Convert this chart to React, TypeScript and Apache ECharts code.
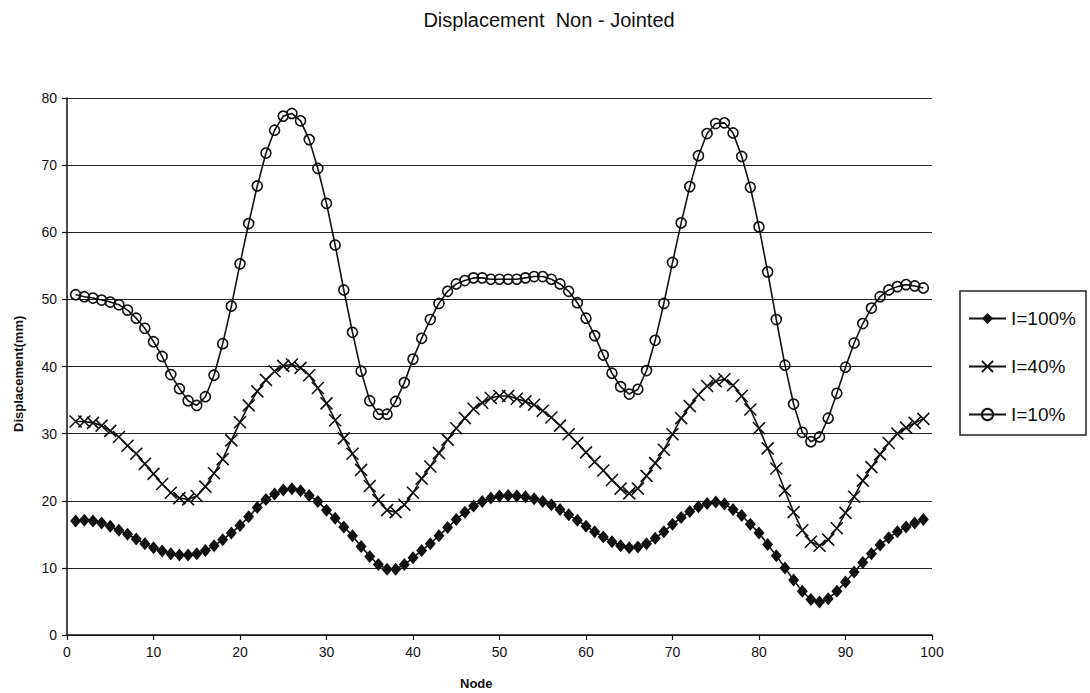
import React, { useEffect, useRef } from "react";
import * as echarts from "echarts";

const nodes = [
  1, 2, 3, 4, 5, 6, 7, 8, 9, 10, 11, 12, 13, 14, 15, 16, 17, 18, 19, 20,
  21, 22, 23, 24, 25, 26, 27, 28, 29, 30, 31, 32, 33, 34, 35, 36, 37, 38, 39, 40,
  41, 42, 43, 44, 45, 46, 47, 48, 49, 50, 51, 52, 53, 54, 55, 56, 57, 58, 59, 60,
  61, 62, 63, 64, 65, 66, 67, 68, 69, 70, 71, 72, 73, 74, 75, 76, 77, 78, 79, 80,
  81, 82, 83, 84, 85, 86, 87, 88, 89, 90, 91, 92, 93, 94, 95, 96, 97, 98, 99,
];

const i100 = [
  17.0, 17.1, 17.0, 16.7, 16.2, 15.6, 15.0, 14.3, 13.6, 13.0, 12.5, 12.1, 11.9, 11.9, 12.1, 12.6, 13.3, 14.2, 15.2, 16.3,
  17.6, 19.0, 20.2, 21.0, 21.6, 21.8, 21.5, 20.8, 19.9, 18.6, 17.4, 16.1, 14.8, 13.2, 11.7, 10.5, 9.8, 9.8, 10.5, 11.5,
  12.6, 13.6, 14.8, 16.0, 17.2, 18.3, 19.2, 19.9, 20.4, 20.7, 20.8, 20.7, 20.6, 20.3, 19.9, 19.4, 18.7, 17.9, 17.1, 16.2,
  15.4, 14.6, 13.9, 13.3, 13.0, 13.1, 13.6, 14.4, 15.4, 16.5, 17.5, 18.4, 19.1, 19.6, 19.8, 19.5, 18.7, 17.8, 16.5, 15.2,
  13.5, 11.8, 10.0, 8.2, 6.5, 5.3, 4.9, 5.4, 6.5, 7.9, 9.4, 10.8, 12.1, 13.4, 14.5, 15.4, 16.1, 16.7, 17.2,
];

const i40 = [
  31.8, 31.8, 31.6, 31.2, 30.4, 29.5, 28.2, 27.0, 25.5, 24.0, 22.5, 21.2, 20.4, 20.2, 20.7, 22.1, 24.1, 26.2, 29.0, 31.7,
  34.2, 36.3, 38.0, 39.3, 40.1, 40.3, 39.8, 38.7, 36.8, 34.5, 32.0, 29.3, 27.0, 24.6, 22.2, 20.1, 18.6, 18.3, 19.4, 21.2,
  23.3, 25.1, 27.1, 29.1, 30.8, 32.3, 33.7, 34.6, 35.3, 35.6, 35.6, 35.2, 34.8, 34.3, 33.4, 32.4, 31.2, 29.9, 28.6, 27.2,
  25.8, 24.5, 23.1, 21.8, 21.1, 21.8, 23.7, 25.6, 27.6, 29.9, 32.3, 34.1, 35.8, 37.1, 37.8, 38.1, 37.2, 35.6, 33.6, 30.8,
  27.8, 24.8, 21.5, 18.3, 15.6, 13.9, 13.3, 14.2, 15.9, 18.2, 20.6, 23.0, 25.0, 26.9, 28.6, 30.0, 30.9, 31.6, 32.2,
];

const i10 = [
  50.7, 50.4, 50.2, 49.9, 49.6, 49.2, 48.4, 47.2, 45.7, 43.7, 41.5, 38.8, 36.7, 34.9, 34.2, 35.5, 38.7, 43.4, 49.0, 55.3,
  61.3, 66.9, 71.8, 75.2, 77.3, 77.7, 76.6, 73.8, 69.5, 64.3, 58.1, 51.4, 45.1, 39.3, 34.9, 32.9, 32.9, 34.8, 37.6, 41.1,
  44.2, 47.0, 49.4, 51.2, 52.3, 52.8, 53.2, 53.2, 53.0, 53.0, 53.0, 53.0, 53.2, 53.4, 53.4, 53.0, 52.3, 51.2, 49.5, 47.2,
  44.6, 41.7, 39.0, 37.0, 35.9, 36.6, 39.4, 43.9, 49.4, 55.5, 61.4, 66.8, 71.4, 74.7, 76.2, 76.3, 74.8, 71.3, 66.7, 60.8,
  54.1, 47.0, 40.2, 34.4, 30.2, 28.8, 29.5, 32.3, 36.0, 39.9, 43.5, 46.4, 48.7, 50.4, 51.4, 51.9, 52.2, 52.0, 51.7,
];

const seriesNames = ["I=100%", "I=40%", "I=10%"];
const titleText = "Displacement  Non - Jointed";
const xName = "Node";
const yName = "Displacement(mm)";

const FONT = "'Liberation Sans', Arial, sans-serif";
const INK = "#111";

function pairs(vals: number[]) {
  return vals.map((v, i) => [nodes[i], v]);
}

export default function App() {
  const ref = useRef<HTMLDivElement>(null);
  useEffect(() => {
    document.body.style.margin = "0";
    if (!ref.current) return;
    const chart = echarts.init(ref.current, null, { renderer: "svg" });
    const lineStyle = { color: INK, width: 1.6 };
    chart.setOption({
      animation: false,
      backgroundColor: "#fff",
      textStyle: { fontFamily: FONT, color: INK },
      title: {
        text: titleText,
        left: 544,
        top: 5,
        textAlign: "center",
        textStyle: { fontFamily: FONT, fontSize: 20, fontWeight: "normal", color: INK },
      },
      grid: { left: 67, right: 158, top: 98, bottom: 58 },
      legend: {
        orient: "vertical",
        left: 960,
        top: 291,
        padding: [18, 8, 0, 8],
        itemGap: 29,
        itemWidth: 37,
        itemHeight: 14,
        borderWidth: 0,
        data: seriesNames,
        textStyle: { fontFamily: FONT, fontSize: 19, color: INK },
      },
      xAxis: {
        type: "value",
        min: 0,
        max: 100,
        interval: 10,
        axisLine: { show: true, onZero: false, lineStyle: { color: INK, width: 1.5 } },
        axisTick: { show: true, length: 5, lineStyle: { color: INK, width: 1.2 } },
        axisLabel: { fontFamily: FONT, fontSize: 14, color: INK, margin: 10 },
        splitLine: { show: false },
      },
      yAxis: {
        type: "value",
        min: 0,
        max: 80,
        interval: 10,
        axisLine: { show: true, lineStyle: { color: INK, width: 1.5 } },
        axisTick: { show: true, length: 5, lineStyle: { color: INK, width: 1.2 } },
        axisLabel: { fontFamily: FONT, fontSize: 14, color: INK, margin: 10 },
        splitLine: { show: true, lineStyle: { color: "#222", width: 1.2 } },
      },
      graphic: [
        {
          type: "rect",
          shape: { x: 960, y: 291, width: 126, height: 144 },
          style: { fill: "none", stroke: "#222", lineWidth: 1.5 },
          silent: true,
        },
        {
          type: "text",
          left: 460,
          top: 677,
          style: { text: xName, font: `bold 13px ${FONT}`, fill: INK },
        },
        {
          type: "text",
          x: 25,
          y: 432,
          rotation: Math.PI / 2,
          style: { text: yName, font: `bold 13px ${FONT}`, fill: INK, textAlign: "left", textVerticalAlign: "bottom" },
        },
      ],
      series: [
        {
          name: seriesNames[0],
          type: "line",
          data: pairs(i100),
          showAllSymbol: true,
          symbol: "diamond",
          symbolSize: [11, 13],
          itemStyle: { color: INK },
          lineStyle,
        },
        {
          name: seriesNames[1],
          type: "line",
          data: pairs(i40),
          showAllSymbol: true,
          symbol: "path://M0,0L10,10M10,0L0,10",
          symbolSize: 12,
          symbolKeepAspect: true,
          itemStyle: { color: "transparent", borderColor: INK, borderWidth: 1.6 },
          lineStyle,
        },
        {
          name: seriesNames[2],
          type: "line",
          data: pairs(i10),
          showAllSymbol: true,
          symbol: "circle",
          symbolSize: 10,
          itemStyle: { color: "transparent", borderColor: INK, borderWidth: 1.6 },
          lineStyle,
        },
      ],
    });
    return () => chart.dispose();
  }, []);
  return <div ref={ref} style={{ width: 1090, height: 693 }} />;
}
